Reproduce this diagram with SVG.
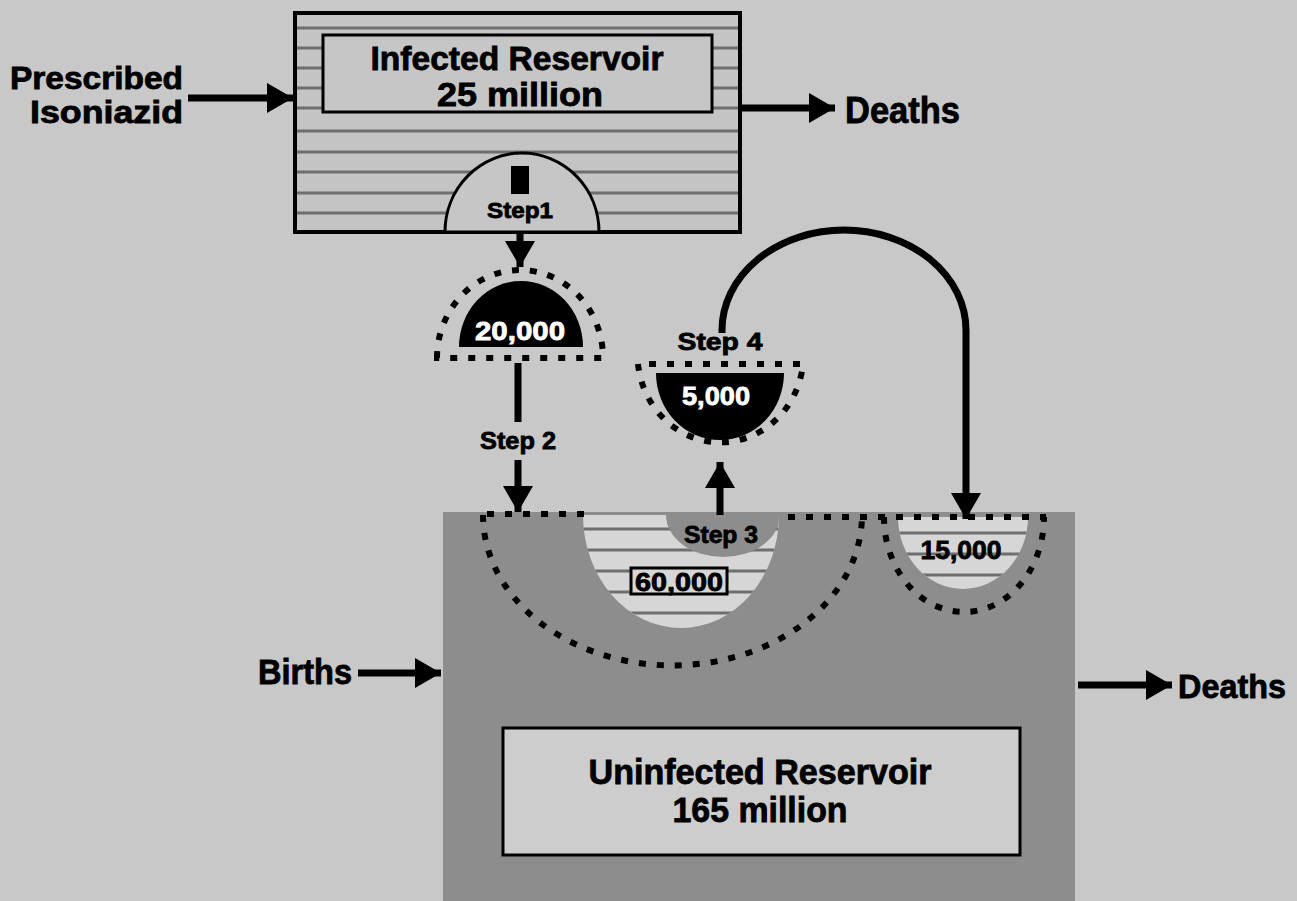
<svg xmlns="http://www.w3.org/2000/svg" width="1297" height="901" viewBox="0 0 1297 901">
<defs>
<style>
.t{font-family:"Liberation Sans",Arial,sans-serif;font-weight:bold;fill:#000;stroke:#000;stroke-width:0.8}
.w{fill:#fff;stroke:#fff}
.dot{fill:none;stroke:#000;stroke-width:6;stroke-dasharray:7 11}
.hatch{stroke:#6e6e6e;stroke-width:3}
.shaft{stroke:#000;stroke-width:7;fill:none}
</style>
<marker id="ah" markerUnits="userSpaceOnUse" markerWidth="28" markerHeight="30" refX="26" refY="15" orient="auto">
<path d="M0,0 L26,15 L0,30 Z" fill="#000"/>
</marker>
<clipPath id="clipTop"><rect x="297" y="15" width="441" height="215"/></clipPath>
<clipPath id="clipCup"><path d="M583,515 A98,113 0 0 0 779,515 Z"/></clipPath>
<clipPath id="clipCup2"><path d="M898,517 A65,72 0 0 0 1028,517 Z"/></clipPath>
</defs>
<rect width="1297" height="901" fill="#c8c8c8"/>

<g id="infected-reservoir">
<rect x="295" y="13" width="445" height="219" fill="#c4c4c4"/>
<g clip-path="url(#clipTop)" class="hatch">
<line x1="295" y1="28" x2="740" y2="28"/>
<line x1="295" y1="48" x2="740" y2="48"/>
<line x1="295" y1="68" x2="740" y2="68"/>
<line x1="295" y1="88" x2="740" y2="88"/>
<line x1="295" y1="108" x2="740" y2="108"/>
<line x1="295" y1="131" x2="740" y2="131"/>
<line x1="295" y1="152" x2="740" y2="152"/>
<line x1="295" y1="172" x2="740" y2="172"/>
<line x1="295" y1="193" x2="740" y2="193"/>
<line x1="295" y1="213" x2="740" y2="213"/>
</g>
<rect x="295" y="13" width="445" height="219" fill="none" stroke="#000" stroke-width="4"/>
<rect x="323" y="35" width="389" height="77" fill="#c6c6c6" stroke="#000" stroke-width="3"/>
<text class="t" x="517" y="70" font-size="33" text-anchor="middle" textLength="293" lengthAdjust="spacingAndGlyphs">Infected Reservoir</text>
<text class="t" x="520" y="106" font-size="33" text-anchor="middle" textLength="166" lengthAdjust="spacingAndGlyphs">25 million</text>
<path d="M445,232 A77,79 0 0 1 599,232 Z" fill="#c6c6c6" stroke="#000" stroke-width="3"/>
<rect x="511" y="166" width="18" height="28" fill="#000"/>
<text class="t" x="520" y="218" font-size="22" text-anchor="middle" textLength="66" lengthAdjust="spacingAndGlyphs">Step1</text>
</g>

<g id="prescribed-isoniazid">
<text class="t" x="183" y="89" font-size="31" text-anchor="end" textLength="173" lengthAdjust="spacingAndGlyphs">Prescribed</text>
<text class="t" x="183" y="123" font-size="31" text-anchor="end" textLength="153" lengthAdjust="spacingAndGlyphs">Isoniazid</text>
</g>

<g id="deaths-top">
<text class="t" x="845" y="123" font-size="36" textLength="115" lengthAdjust="spacingAndGlyphs">Deaths</text>
</g>

<g id="node-20000">
<path d="M459,347 A62,66 0 0 1 583,347 Z" fill="#000"/>
<path class="dot" d="M437,358 A83,88 0 0 1 603,358 Z"/>
<text class="t w" x="520" y="340" font-size="26" text-anchor="middle" textLength="90" lengthAdjust="spacingAndGlyphs">20,000</text>
</g>

<g id="node-5000">
<path d="M656,373 A64,67 0 0 0 784,373 Z" fill="#000"/>
<path class="dot" d="M638,364 A83,88 0 0 0 803,364 Z"/>
<text class="t w" x="716" y="405" font-size="26" text-anchor="middle" textLength="68" lengthAdjust="spacingAndGlyphs">5,000</text>
</g>

<g id="uninfected-reservoir">
<rect x="443" y="512" width="632" height="389" fill="#8d8d8d"/>
<rect x="503" y="728" width="517" height="127" fill="#cdcdcd" stroke="#000" stroke-width="3"/>
<text class="t" x="760" y="784" font-size="35" text-anchor="middle" textLength="343" lengthAdjust="spacingAndGlyphs">Uninfected Reservoir</text>
<text class="t" x="760" y="822" font-size="35" text-anchor="middle" textLength="175" lengthAdjust="spacingAndGlyphs">165 million</text>
</g>

<g id="node-60000">
<path d="M583,515 A98,113 0 0 0 779,515 Z" fill="#d6d6d6"/>
<g clip-path="url(#clipCup)">
<g class="hatch">
<line x1="580" y1="529" x2="782" y2="529"/>
<line x1="580" y1="550" x2="782" y2="550"/>
<line x1="580" y1="571" x2="782" y2="571"/>
<line x1="580" y1="592" x2="782" y2="592"/>
<line x1="580" y1="613" x2="782" y2="613"/>
</g>
<path d="M666,515 A57,42 0 0 0 780,515 Z" fill="#8d8d8d"/>
</g>
<text class="t" x="721" y="543" font-size="24" text-anchor="middle" textLength="74" lengthAdjust="spacingAndGlyphs">Step 3</text>
<rect x="631" y="568" width="96" height="26" fill="#d6d6d6" stroke="#000" stroke-width="3"/>
<text class="t" x="679" y="591" font-size="25" text-anchor="middle" textLength="88" lengthAdjust="spacingAndGlyphs">60,000</text>
<path class="dot" d="M483,515 A189,150 0 0 0 862,515"/>
</g>

<g id="node-15000">
<path d="M898,517 A65,72 0 0 0 1028,517 Z" fill="#d6d6d6"/>
<g clip-path="url(#clipCup2)" class="hatch">
<line x1="895" y1="533" x2="1030" y2="533"/>
<line x1="895" y1="554" x2="1030" y2="554"/>
<line x1="895" y1="575" x2="1030" y2="575"/>
</g>
<text class="t" x="961" y="559" font-size="25" text-anchor="middle" textLength="81" lengthAdjust="spacingAndGlyphs">15,000</text>
<path class="dot" d="M884,517 A80,95 0 0 0 1044,517"/>
</g>

<g id="dotted-rim">
<line class="dot" x1="487" y1="514" x2="585" y2="514"/>
<line class="dot" x1="788" y1="517" x2="1046" y2="517"/>
</g>

<g id="births">
<text class="t" x="258" y="684" font-size="35" textLength="94" lengthAdjust="spacingAndGlyphs">Births</text>
</g>

<g id="deaths-bottom">
<text class="t" x="1178" y="698" font-size="34" textLength="108" lengthAdjust="spacingAndGlyphs">Deaths</text>
</g>

<g id="step-labels">
<text class="t" x="518" y="449" font-size="24" text-anchor="middle" textLength="76" lengthAdjust="spacingAndGlyphs">Step 2</text>
<text class="t" x="720" y="350" font-size="24" text-anchor="middle" textLength="85" lengthAdjust="spacingAndGlyphs">Step 4</text>
</g>

<g id="connectors">
<line class="shaft" x1="188" y1="98" x2="293" y2="98" marker-end="url(#ah)"/>
<line class="shaft" x1="740" y1="108" x2="835" y2="108" marker-end="url(#ah)"/>
<line class="shaft" x1="520" y1="232" x2="520" y2="267" marker-end="url(#ah)"/>
<line class="shaft" x1="518" y1="363" x2="518" y2="422"/>
<line class="shaft" x1="518" y1="460" x2="518" y2="512" marker-end="url(#ah)"/>
<line class="shaft" x1="720" y1="515" x2="720" y2="462" marker-end="url(#ah)"/>
<path class="shaft" d="M722,333 L722,330 A122,100 0 0 1 966,330 L966,519" marker-end="url(#ah)"/>
<line class="shaft" x1="358" y1="673" x2="441" y2="673" marker-end="url(#ah)"/>
<line class="shaft" x1="1078" y1="685" x2="1172" y2="685" marker-end="url(#ah)"/>
</g>
</svg>
